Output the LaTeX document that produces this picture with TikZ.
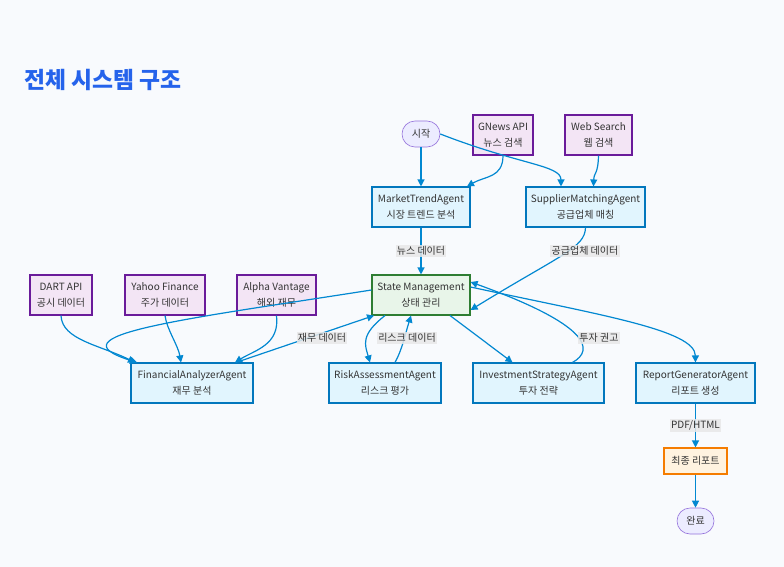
\documentclass[tikz,border=0pt]{standalone}
\usepackage{fontspec}
\setmainfont{Noto Sans CJK KR}
\usetikzlibrary{arrows.meta,shapes.misc}
\definecolor{bgc}{HTML}{F8FAFD}
\definecolor{edgec}{HTML}{0288D1}
\definecolor{agfill}{HTML}{E1F5FE}
\definecolor{agdraw}{HTML}{0277BD}
\definecolor{apifill}{HTML}{F3E5F5}
\definecolor{apidraw}{HTML}{6A1B9A}
\definecolor{stfill}{HTML}{E8F5E9}
\definecolor{stdraw}{HTML}{2E7D32}
\definecolor{fnfill}{HTML}{FFF3E0}
\definecolor{fndraw}{HTML}{F57C00}
\definecolor{sefill}{HTML}{ECECFF}
\definecolor{sedraw}{HTML}{9370DB}
\definecolor{txt}{HTML}{333333}
\definecolor{titlec}{HTML}{2563EB}
\definecolor{lblbg}{HTML}{E8E8E8}
\begin{document}
\begin{tikzpicture}[x=1pt,y=-1pt,
  every node/.style={font=\fontsize{10}{15.5}\selectfont, text=txt, align=center, inner sep=0pt},
  box/.style={draw, line width=1.1pt, minimum height=40pt},
  agent/.style={box, fill=agfill, draw=agdraw},
  api/.style={box, fill=apifill, draw=apidraw},
  statebox/.style={box, fill=stfill, draw=stdraw},
  finalbox/.style={box, fill=fnfill, draw=fndraw, minimum height=26pt},
  term/.style={rounded rectangle, draw=sedraw, fill=sefill, line width=0.6pt, minimum height=26pt},
  conn/.style={draw=edgec, line width=1.2pt, -{Triangle[length=7pt,width=7pt]}},
  lbl/.style={fill=lblbg, fill opacity=0.85, text opacity=1, inner sep=1.2pt}
]
\useasboundingbox (0,0) rectangle (784,567);
\fill[bgc] (0,0) rectangle (784,567);

\node[font=\fontsize{22.8}{26}\selectfont\bfseries, text=titlec, anchor=west] (title) at (24,80) {전체 시스템 구조};

\node[term, minimum width=38pt] (start) at (421,134) {시작};
\node[api, minimum width=60pt] (gnews) at (503,135) {GNews API\\뉴스 검색};
\node[api, minimum width=67pt] (web) at (598.5,135) {Web Search\\웹 검색};
\node[agent, minimum width=98pt] (market) at (421,207) {MarketTrendAgent\\시장 트렌드 분석};
\node[agent, minimum width=119pt] (supplier) at (585.5,207) {SupplierMatchingAgent\\공급업체 매칭};
\node[statebox, minimum width=98pt] (state) at (421,295) {State Management\\상태 관리};
\node[api, minimum width=62pt] (dart) at (61,295) {DART API\\공시 데이터};
\node[api, minimum width=80pt] (yahoo) at (165,295) {Yahoo Finance\\주가 데이터};
\node[api, minimum width=79pt] (alpha) at (276.5,295) {Alpha Vantage\\해외 재무};
\node[agent, minimum width=122pt] (fin) at (192,383) {FinancialAnalyzerAgent\\재무 분석};
\node[agent, minimum width=112pt] (risk) at (385,383) {RiskAssessmentAgent\\리스크 평가};
\node[agent, minimum width=131pt] (invest) at (538.5,383) {InvestmentStrategyAgent\\투자 전략};
\node[agent, minimum width=119pt] (report) at (695.5,383) {ReportGeneratorAgent\\리포트 생성};
\node[finalbox, minimum width=63pt] (final) at (695.5,461) {최종 리포트};
\node[term, minimum width=37pt] (done) at (695.5,521) {완료};

% top part
\draw[conn] (start.south) -- (market.north);
\draw[conn] (start.east) .. controls (520,165) and (561,165) .. ([xshift=-24.5pt]supplier.north);
\draw[conn] (gnews.south) .. controls (503,178) and (485,176) .. ([xshift=46pt]market.north);
\draw[conn] (web.south) .. controls (598,175) and (594,172) .. ([xshift=8pt]supplier.north);
\draw[conn] (market.south) -- node[lbl] (l1) {뉴스 데이터} (state.north);
\draw[conn] (supplier.south) .. controls (585,248) and (560,255) .. ([yshift=-15pt]state.east);
\node[lbl] (l2) at (585,251) {공급업체 데이터};

% apis to fin
\draw[conn] (dart.south) .. controls (62,340) and (100,345) .. ([xshift=-57pt]fin.north);
\draw[conn] (yahoo.south) .. controls (167,330) and (178,345) .. ([xshift=-11pt]fin.north);
\draw[conn] (alpha.south) .. controls (280,345) and (255,350) .. ([xshift=43pt]fin.north);

% state <-> fin
\draw[conn] ([yshift=5pt]state.west) .. controls (180,320) and (50,335) .. ([xshift=-55pt]fin.north);
\draw[conn] ([xshift=44pt]fin.north) -- ([xshift=-47pt]state.south);
\node[lbl] (l3) at (322,338) {재무 데이터};

% state <-> risk
\draw[conn] ([xshift=-36pt]state.south) .. controls (360,335) and (365,345) .. ([xshift=-15pt]risk.north);
\draw[conn] ([xshift=10pt]risk.north) .. controls (402,350) and (405,335) .. ([xshift=-10pt]state.south);
\node[lbl] (l4) at (407,338) {리스크 데이터};

% state <-> invest
\draw[conn] ([xshift=29pt]state.south) -- ([xshift=-26pt]invest.north);
\draw[conn] ([xshift=34pt]invest.north) .. controls (595,350) and (590,325) .. ([yshift=13pt]state.east);
\node[lbl] (l5) at (599,338) {투자 권고};

% state -> report
\draw[conn] ([yshift=8pt]state.east) .. controls (600,315) and (695,330) .. (report.north);

% report -> final -> done
\draw[conn] (report.south) -- node[lbl] (l6) {PDF/HTML} (final.north);
\draw[conn] (final.south) -- (done.north);
\end{tikzpicture}
\end{document}
